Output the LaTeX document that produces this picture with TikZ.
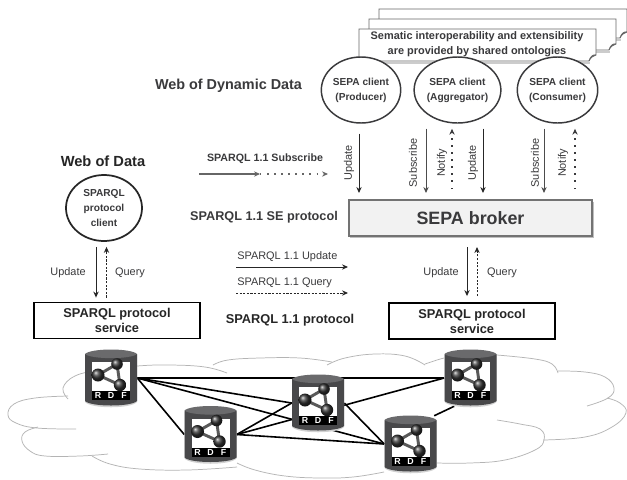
\documentclass[tikz,border=0pt]{standalone}
\usepackage{fontspec}
\setmainfont{Liberation Sans}
\usetikzlibrary{arrows.meta,shapes.geometric,calc}
\definecolor{ink}{HTML}{3A3A3C}
\definecolor{cloudc}{HTML}{B4B4B4}
\definecolor{dbbody}{HTML}{48484A}
\definecolor{dbtop}{HTML}{6A6A6C}
\tikzset{
  lab/.style={text=ink,font=\fontsize{8.2}{10}\selectfont,inner sep=0pt},
  blab/.style={text=ink,font=\fontsize{8}{10}\selectfont\bfseries,inner sep=0pt},
  title/.style={text=ink,font=\fontsize{10.8}{12}\selectfont\bfseries,inner sep=0pt},
  clientc/.style={draw=black!85,line width=1.1pt,ellipse,minimum width=55.5pt,minimum height=49.5pt,inner sep=0pt,align=center,text=ink,font=\fontsize{7.6}{11.2}\selectfont\bfseries,fill=white},
  service/.style={draw=black,line width=1.4pt,fill=white,minimum width=124.5pt,minimum height=27pt,inner sep=0pt,align=center,text=black!85,font=\fontsize{9.6}{11.2}\selectfont\bfseries},
  sol/.style={draw=black!85,line width=.75pt,-{Stealth[length=4.5pt,width=4pt]}},
  dsh/.style={draw=black!85,line width=.75pt,dash pattern=on 1.6pt off 1.1pt,-{Stealth[length=4.5pt,width=4pt]}},
  dot/.style={draw=ink,line width=1.1pt,dash pattern=on 1.1pt off 4.2pt,-{Stealth[length=4.5pt,width=4pt]}},
  cloudl/.style={draw=cloudc,line width=.55pt},
  link/.style={draw=black,line width=1.2pt},
  dbbox/.style={minimum width=39pt,minimum height=42pt,inner sep=0pt},
  page/.style={draw=black!60,line width=.6pt,fill=white},
  rdfl/.style={text=white,font=\fontsize{6.6}{7}\selectfont\bfseries,inner sep=0pt},
}
\newcommand{\docpage}[4]{% left, top, right, bottom
  \draw[black!20,line width=1.4pt] (#1+1,#2+1) -- (#1+1,#4+2) -- (#3-6,#4+2);
  \draw[page] (#1,#2) -- (#3,#2) -- (#3,#4-6) .. controls (#3-3,#4-7) and (#3-6,#4-4) .. (#3-7,#4) -- (#1,#4) -- cycle;
  \draw[black!60,line width=.6pt,fill=black!25] (#3,#4-6) .. controls (#3-3,#4-5) and (#3-5,#4-4) .. (#3-7,#4) .. controls (#3-6,#4-3) and (#3-4,#4-6) .. (#3,#4-6);
}
\begin{document}
\begin{tikzpicture}[x=.75pt,y=-.75pt]
\useasboundingbox (0,0) rectangle (627,479);
\fill[white] (0,0) rectangle (627,479);
% cloud
\draw[cloudl] plot[smooth,tension=.7] coordinates {(227,373) (205,367) (170,365) (137,366) (100,370) (75,376) (63,388) (68,399)};
\draw[cloudl] plot[smooth,tension=.7] coordinates {(68,396) (35,398) (14,404) (8,415) (16,423) (37,428) (76,429)};
\draw[cloudl] plot[smooth,tension=.7] coordinates {(38,427) (25,432) (22,441) (30,451) (45,456) (80,456) (108,454)};
\draw[cloudl] plot[smooth,tension=.7] coordinates {(92,456) (110,464) (140,469) (187,470) (237,467)};
\draw[cloudl] plot[smooth,tension=.7] coordinates {(237,463) (255,470) (285,476) (320,478) (353,477) (384,472)};
\draw[cloudl] plot[smooth,tension=.7] coordinates {(437,463) (470,463) (505,460) (535,450) (544,440) (540,429) (520,424) (497,420)};
\draw[cloudl] plot[smooth,tension=.7] coordinates {(543,440) (585,437) (612,427) (626,413) (620,403) (607,398)};
\draw[cloudl] plot[smooth,tension=.7] coordinates {(587,406) (608,398) (614,388) (605,377) (585,372) (558,371)};
\draw[cloudl] plot[smooth,tension=.7] coordinates {(558,373) (552,364) (535,359) (497,355)};
\draw[cloudl] plot[smooth,tension=.7] coordinates {(213,365) (228,360) (260,358) (300,358) (332,362)};
\draw[cloudl] plot[smooth,tension=.7] coordinates {(327,365) (345,358) (375,354) (405,356) (425,365)};
\draw[cloudl] plot[smooth,tension=.7] coordinates {(425,364) (437,360) (444,358)};
% databases (anchors first)
\node[dbbox] (db1) at (111,378) {};
\node[dbbox] (db2) at (210.5,434.5) {};
\node[dbbox] (db3) at (318,403) {};
\node[dbbox] (db4) at (470.5,378) {};
\node[dbbox] (db5) at (410.5,444) {};
% links
\draw[link] (db1.east) -- (db4.west);
\draw[link] (db1.east) -- (db3.west);
\draw[link] (db1.east) -- (db5.west);
\draw[link] (db1.east) -- (db2.west);
\draw[link] (db2.east) -- (db3.west);
\draw[link] (db2.east) -- (db4.west);
\draw[link] (db2.east) -- (db5.west);
\draw[link] (db3.east) -- (db5.west);
\draw[link] (db4.240) -- (db5.50);
% database icons
\foreach \n in {db1,db2,db3,db4,db5}{
\begin{scope}[shift={(\n.center)}]
  \fill[black!18] (-26,-23) -- (-26,24) .. controls (-20,31) and (20,31) .. (26,24) -- (26,-23) -- cycle;
  \fill[dbbody] (-26,-24) -- (-26,23) .. controls (-20,29) and (20,29) .. (26,23) -- (26,-24) -- cycle;
  \fill[dbtop] (-26,-24) .. controls (-20,-30) and (20,-30) .. (26,-24) .. controls (20,-18.5) and (-20,-18.5) .. (-26,-24) -- cycle;
  \fill[white] (-19,-16) rectangle (19,13);
  \fill[black] (-19,13) rectangle (19,22);
  \draw[black!65,line width=2.2pt,line join=round] (-13,-3) -- (6,-14) -- (9,7) -- cycle;
  \shade[ball color=black!80] (6,-14) circle (5.8);
  \shade[ball color=black!80] (-13,-3) circle (6.5);
  \shade[ball color=black!80] (9,7) circle (6.2);
  \node[rdfl] (\n r) at (-13,17.5) {R};
  \node[rdfl] (\n d) at (0,17.5) {D};
  \node[rdfl] (\n f) at (13,17.5) {F};
\end{scope}}
% shared ontology pages
\docpage{379}{9}{627}{38}
\docpage{369}{19}{616}{50}
\docpage{359}{29}{596}{61}
\node[text=ink,font=\fontsize{8.2}{11.6}\selectfont\bfseries,align=center,inner sep=0pt] (onto) at (477,44) {Sematic interoperability and extensibility\\are provided by shared ontologies};
% clients
\node[clientc,draw=ink] (prod) at (361,90) {SEPA client\\(Producer)};
\node[clientc,draw=ink] (agg) at (457.5,90) {SEPA client\\(Aggregator)};
\node[clientc,draw=ink] (cons) at (557.5,90) {SEPA client\\(Consumer)};
\node[clientc,minimum width=57pt,line width=1.3pt] (client) at (104,208) {SPARQL\\protocol\\client};
% broker
\fill[black!25] (350,202) rectangle (594,238);
\node[draw=black!55,line width=1.5pt,fill=black!5,minimum width=182pt,minimum height=27pt,inner sep=0pt,text=ink,font=\fontsize{13.4}{15}\selectfont\bfseries] (broker) at (470.5,218) {SEPA broker};
% services
\node[service] (svc1) at (117,320.5) {SPARQL protocol\\service};
\node[service] (svc2) at (472,321) {SPARQL protocol\\service};
% titles
\node[title] (wdd) at (228.5,86) {Web of Dynamic Data};
\node[title,font=\fontsize{11}{13}\selectfont\bfseries,text=black!85] (wd) at (103,161) {Web of Data};
\node[blab,font=\fontsize{9.5}{12}\selectfont\bfseries] (se) at (264,217) {SPARQL 1.1 SE protocol};
\node[blab,font=\fontsize{9.6}{12}\selectfont\bfseries,text=black!85] (sp) at (290,320) {SPARQL 1.1 protocol};
\node[blab] (subl) at (265,159) {SPARQL 1.1 Subscribe};
\node[lab,anchor=west] (updl) at (237,257) {SPARQL 1.1 Update};
\node[lab,anchor=west] (qryl) at (237,283) {SPARQL 1.1 Query};
% horizontal legend arrows
\coordinate (s0) at (199,174);
\coordinate (s1) at (260,174);
\coordinate (s2) at (328,174);
\coordinate (u0) at (236,267);
\coordinate (u1) at (348,267);
\coordinate (q0) at (236,293);
\coordinate (q1) at (348,293);
\draw[draw=black!60,line width=1.2pt,-{Stealth[length=4.5pt,width=4pt]}] (s0) -- (s1);
\draw[dot,black!60] (s1) -- (s2);
\draw[sol] (u0) -- (u1);
\draw[dsh] (q0) -- (q1);
% SEPA arrows
\draw[sol] ([shift={(-2,10)}]prod.south) -- ([shift={(-111.5,-6)}]broker.north);
\draw[sol,draw=black!70] ([shift={(-31.5,5)}]agg.south) -- ([shift={(-44.5,-6)}]broker.north);
\draw[dot] ([shift={(-18.5,-10)}]broker.north) -- ([shift={(-5.5,5)}]agg.south);
\draw[sol] ([shift={(25.5,5)}]agg.south) -- ([shift={(12.5,-6)}]broker.north);
\draw[sol,draw=black!70] ([shift={(-13.5,5)}]cons.south) -- ([shift={(73.5,-6)}]broker.north);
\draw[dot] ([shift={(104.5,-10)}]broker.north) -- ([shift={(17.5,5)}]cons.south);
\node[lab,rotate=90] (l1) at (349,163) {Update};
\node[lab,rotate=90] (l2) at (413,163) {Subscribe};
\node[lab,rotate=90] (l3) at (442,163) {Notify};
\node[lab,rotate=90] (l4) at (473,163) {Update};
\node[lab,rotate=90] (l5) at (535,163) {Subscribe};
\node[lab,rotate=90] (l6) at (563,163) {Notify};
% left column
\draw[sol] ([shift={(-8,5)}]client.south) -- ([shift={(-21,-4)}]svc1.north);
\draw[dsh] ([shift={(-10.5,-4)}]svc1.north) -- ([shift={(2.5,5)}]client.south);
\node[lab] (l7) at (68,273) {Update};
\node[lab] (l8) at (130,273) {Query};
% right column
\draw[sol] ([shift={(-3.5,10)}]broker.south) -- ([shift={(-5,-6)}]svc2.north);
\draw[dsh] ([shift={(5,-6)}]svc2.north) -- ([shift={(6.5,10)}]broker.south);
\node[lab] (l9) at (441,273) {Update};
\node[lab] (l10) at (502,273) {Query};
\end{tikzpicture}
\end{document}
